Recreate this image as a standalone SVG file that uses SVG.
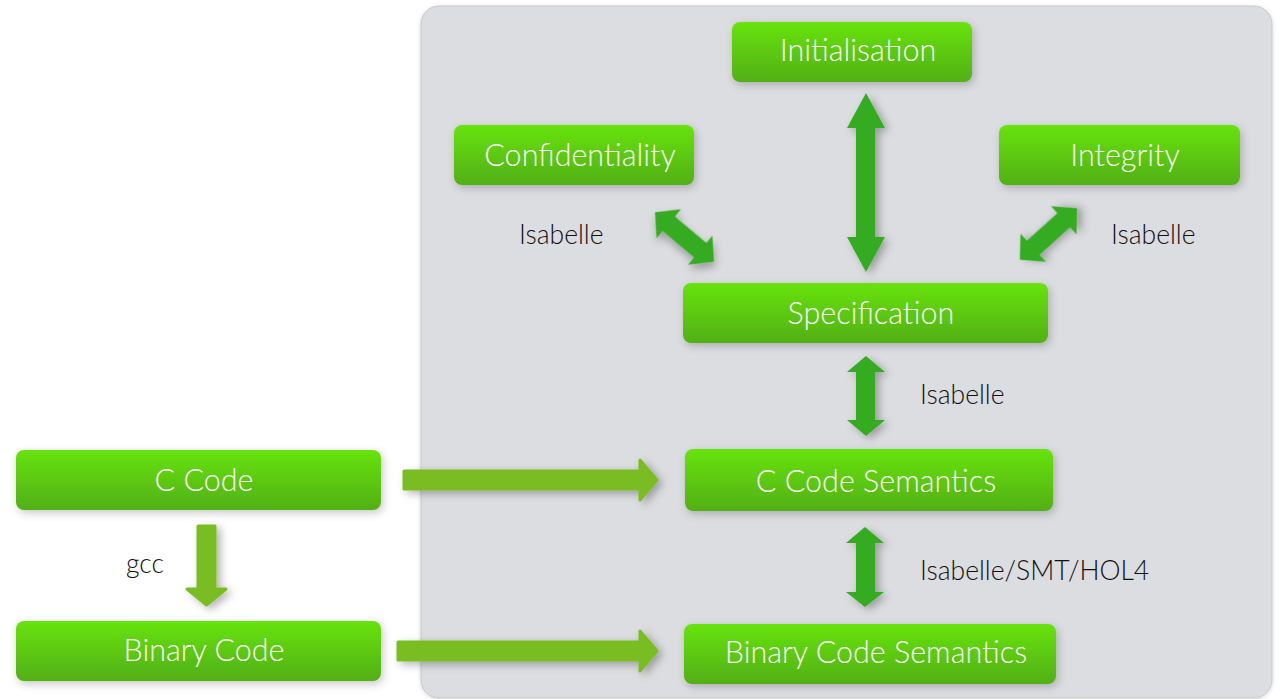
<svg xmlns="http://www.w3.org/2000/svg" width="1281" height="699" viewBox="0 0 1281 699">
<defs>
<linearGradient id="g" x1="0" y1="0" x2="0" y2="1">
<stop offset="0" stop-color="#67e311"/>
<stop offset="1" stop-color="#52af12"/>
</linearGradient>
<filter id="sh" x="-20%" y="-40%" width="140%" height="180%">
<feDropShadow dx="2" dy="3" stdDeviation="4" flood-color="#000" flood-opacity="0.22"/>
</filter>
<filter id="ash" x="-50%" y="-50%" width="200%" height="200%">
<feDropShadow dx="4" dy="3" stdDeviation="4" flood-color="#000" flood-opacity="0.3"/>
</filter>
<filter id="psh" x="-5%" y="-5%" width="110%" height="110%">
<feDropShadow dx="0" dy="1" stdDeviation="2" flood-color="#000" flood-opacity="0.15"/>
</filter>
<path id="dbl" d="M-38.5,0 L-20.5,-19 L-20.5,-9.5 L20.5,-9.5 L20.5,-19 L38.5,0 L20.5,19 L20.5,9.5 L-20.5,9.5 L-20.5,19 Z"/>
</defs>
<style>
.node rect{fill:url(#g);filter:url(#sh)}
.node text{fill:#fff;font-family:Lato,"Open Sans",sans-serif;font-weight:300;font-size:30.5px;text-anchor:middle}
.lbl{fill:#111;font-family:Lato,"Open Sans",sans-serif;font-weight:300;font-size:26.5px}
.dk{fill:#35ab24;filter:url(#ash)}
.lt{fill:#79bd22;stroke:#79bd22;stroke-width:3;stroke-linejoin:round;filter:url(#ash)}
</style>
<rect width="1281" height="699" fill="#fff"/>
<rect x="421" y="6" width="851" height="692" rx="18" fill="#dcdde0" stroke="#c8c9cc" stroke-width="1" filter="url(#psh)"/>

<g id="connectors">
<path class="dk" d="M866,93 L885,128 L875,128 L875,237 L885,237 L866,272 L847,237 L856,237 L856,128 L847,128 Z"/>
<path class="dk" d="M866,356 L885,372 L875,372 L875,420 L885,420 L866,436 L847,420 L856,420 L856,372 L847,372 Z"/>
<path class="dk" d="M865,527 L884,543 L875,543 L875,592 L884,592 L865,607 L846,592 L856,592 L856,543 L846,543 Z"/>
<use href="#dbl" class="dk" transform="translate(684.5,237) rotate(40)"/>
<use href="#dbl" class="dk" transform="translate(1048.5,234) rotate(-42)"/>
<path class="lt" d="M404,471 L640,471 L640,460 L657,480 L640,500 L640,489 L404,489 Z"/>
<path class="lt" d="M398,642 L640,642 L640,631 L657,651 L640,671 L640,660 L398,660 Z"/>
<path class="lt" d="M198,526 L215,526 L215,589 L226,589 L206.5,605 L187,589 L198,589 Z"/>
</g>

<g id="n-init" class="node"><rect x="732" y="22" width="240" height="60" rx="8"/><text x="858" y="61">Initialisation</text></g>
<g id="n-conf" class="node"><rect x="454" y="125" width="240" height="60" rx="8"/><text x="580" y="166">Confidentiality</text></g>
<g id="n-integ" class="node"><rect x="999" y="125" width="241" height="60" rx="8"/><text x="1125" y="166">Integrity</text></g>
<g id="n-spec" class="node"><rect x="683" y="283" width="365" height="60" rx="8"/><text x="871" y="324">Specification</text></g>
<g id="n-csem" class="node"><rect x="685" y="449" width="368" height="62" rx="8"/><text x="876" y="492">C Code Semantics</text></g>
<g id="n-bsem" class="node"><rect x="684" y="624" width="372" height="60" rx="8"/><text x="876" y="663">Binary Code Semantics</text></g>
<g id="n-ccode" class="node"><rect x="16" y="450" width="365" height="60" rx="8"/><text x="204" y="491">C Code</text></g>
<g id="n-bcode" class="node"><rect x="16" y="621" width="365" height="60" rx="8"/><text x="204" y="661">Binary Code</text></g>

<g id="labels">
<text class="lbl" x="519" y="244">Isabelle</text>
<text class="lbl" x="1111" y="244">Isabelle</text>
<text class="lbl" x="920" y="404">Isabelle</text>
<text class="lbl" x="920" y="580">Isabelle/SMT/HOL4</text>
<text class="lbl" x="126" y="573">gcc</text>
</g>
</svg>
